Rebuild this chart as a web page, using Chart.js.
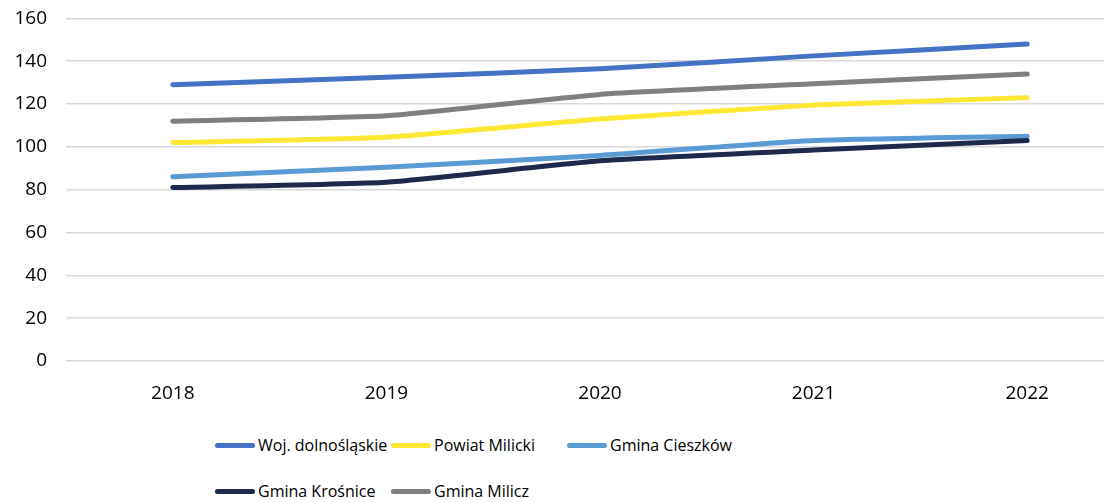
<!DOCTYPE html>
<html>
<head>
<meta charset="utf-8">
<script src="https://cdn.jsdelivr.net/npm/chart.js@4"></script>
<style>
    html, body { margin: 0; padding: 0; background: #fff; overflow: hidden; }
    #wrap { position: relative; width: 1104px; height: 502px; overflow: hidden; }
    #chartBox { position: absolute; left: 0; top: -12px; width: 1134px; height: 420px; }
    #legend {
        position: absolute; left: 215px; top: 432px;
        display: grid; grid-template-columns: 176px 176px 176px; row-gap: 20px;
        font-family: "Open Sans", sans-serif; font-size: 16px; color: #000;
    }
    .leg-item { display: flex; align-items: center; height: 26px; white-space: nowrap; }
    .leg-line { width: 40px; height: 5px; border-radius: 3px; margin-right: 3px; }
</style>
</head>
<body>
<div id="wrap">
    <div id="chartBox"><canvas id="lineChart"></canvas></div>
    <div id="legend"></div>
</div>
<script>
const years = ['2018', '2019', '2020', '2021', '2022'];
const seriesNames = ['Woj. dolnośląskie', 'Powiat Milicki', 'Gmina Cieszków', 'Gmina Krośnice', 'Gmina Milicz'];
const wojValues = [129, 132.5, 136.5, 142.5, 148];
const powiatValues = [102, 104.5, 113, 119.5, 123];
const cieszkowValues = [86, 90.5, 96, 103, 105];
const krosniceValues = [81, 83.5, 93.5, 98.5, 103];
const miliczValues = [112, 114.5, 124.5, 129.5, 134];
const yTicks = [0, 20, 40, 60, 80, 100, 120, 140, 160];

const colors = ['#4472C4', '#FFE833', '#5B9BD5', '#1E2A4B', '#7F7F7F'];
const allValues = [wojValues, powiatValues, cieszkowValues, krosniceValues, miliczValues];

// later series drawn on top, like Excel
const datasets = seriesNames.map((name, i) => ({
    label: name,
    data: allValues[i],
    borderColor: colors[i],
    backgroundColor: colors[i],
    borderWidth: 5,
    borderCapStyle: 'round',
    borderJoinStyle: 'round',
    pointRadius: 0,
    tension: 0.15,
    fill: false,
    order: seriesNames.length - i
}));

new Chart(document.getElementById('lineChart'), {
    type: 'line',
    data: { labels: years, datasets: datasets },
    options: {
        responsive: true,
        maintainAspectRatio: false,
        animation: false,
        layout: { padding: { top: 6, right: 0, left: 0, bottom: 0 } },
        plugins: { legend: { display: false }, tooltip: { enabled: false } },
        scales: {
            x: {
                offset: true,
                grid: { display: false },
                border: { display: false },
                ticks: { color: '#000', padding: 13, font: { family: 'Open Sans', size: 19 } },
                afterFit: (scale) => { scale.height = 47; }
            },
            y: {
                min: 0,
                max: 160,
                afterBuildTicks: (scale) => { scale.ticks = yTicks.map(v => ({ value: v })); },
                grid: { color: '#d9d9d9', lineWidth: 1.5, drawTicks: false },
                border: { display: false },
                ticks: { color: '#000', padding: 19, font: { family: 'Open Sans', size: 19 } },
                afterFit: (scale) => { scale.width = 66; }
            }
        }
    }
});

const legend = document.getElementById('legend');
seriesNames.forEach((name, i) => {
    legend.insertAdjacentHTML('beforeend',
        `<div class="leg-item"><span class="leg-line" style="background:${colors[i]}"></span>${name}</div>`);
});
</script>
</body>
</html>
